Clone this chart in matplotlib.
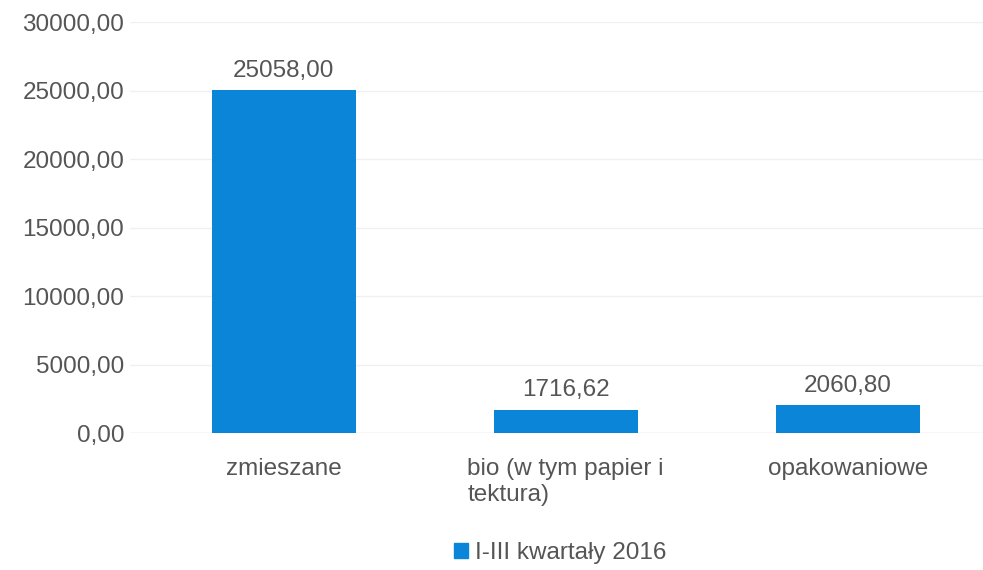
import matplotlib.pyplot as plt
from matplotlib.patches import Patch

categories = ["zmieszane", "bio (w tym papier i\ntektura)", "opakowaniowe"]
values = [25058.00, 1716.62, 2060.80]
series_name = "I-III kwartały 2016"
yticks = [0, 5000, 10000, 15000, 20000, 25000, 30000]

bar_color = "#0b85d7"
text_color = "#555555"

plt.rcParams["font.family"] = ["Liberation Sans", "DejaVu Sans"]

fig = plt.figure(figsize=(9.83, 5.70), dpi=100)
ax = fig.add_axes([0.132, 0.240, 0.868, 0.721])

x = range(len(categories))
ax.bar(x, values, width=0.51, color=bar_color, zorder=2)

for xi, v in zip(x, values):
    label = f"{v:.2f}".replace(".", ",")
    ax.annotate(label, (xi, v), xytext=(0, 6), textcoords="offset points",
                ha="center", va="bottom", fontsize=17.5, color=text_color)

ax.set_ylim(0, 30000)
ax.set_xlim(-0.546, 2.48)
ax.set_yticks(yticks)
ax.set_yticklabels([f"{t:.2f}".replace(".", ",") for t in yticks])
ax.set_xticks(list(x))
ax.set_xticklabels(categories, multialignment="left")
ax.tick_params(axis="y", length=0, pad=4, labelsize=17.5, labelcolor=text_color)
ax.tick_params(axis="x", length=0, pad=18, labelsize=17.5, labelcolor=text_color)
ax.grid(axis="y", color="#f0f0f0", linewidth=1, zorder=0)
for s in ax.spines.values():
    s.set_visible(False)
ax.axhline(0, color="#e4e4e4", linewidth=1, zorder=1)

fig.legend(handles=[Patch(color=bar_color, label=series_name)],
           loc="center", bbox_to_anchor=(0.57, 0.03), frameon=False,
           fontsize=17.5, labelcolor=text_color, handlelength=0.55,
           handleheight=0.55, handletextpad=0.3)

fig.savefig("out.png", dpi=100)
